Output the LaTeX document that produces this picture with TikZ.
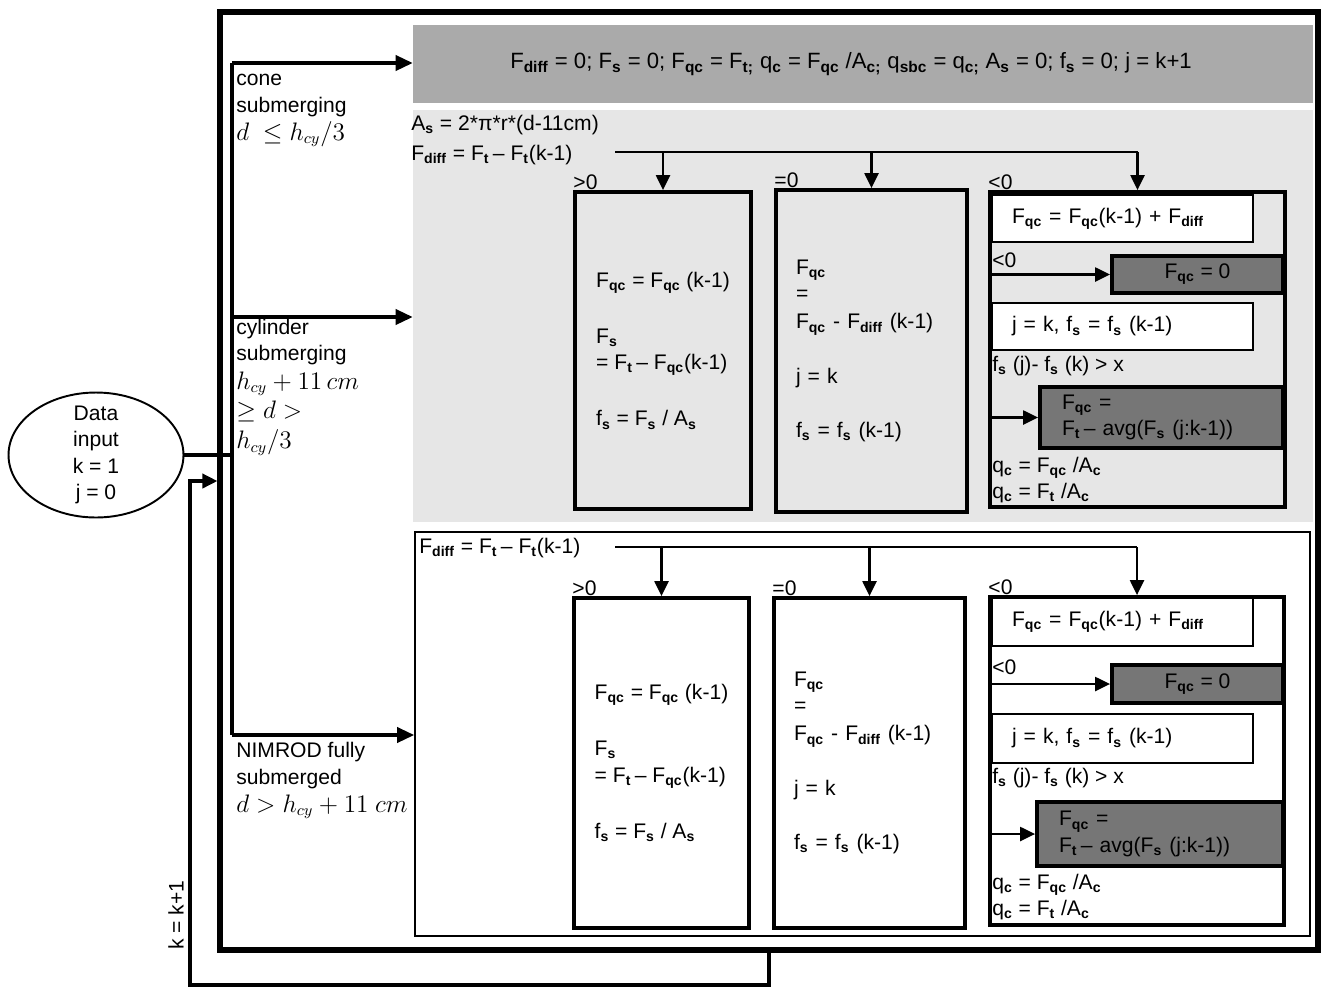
\documentclass[tikz,border=0pt]{standalone}
\usepackage{fontspec}
\setmainfont{Liberation Sans}
\usetikzlibrary{arrows.meta,calc,shapes.geometric}
\definecolor{BarGray}{RGB}{170,170,170}
\definecolor{RegGray}{RGB}{230,230,230}
\definecolor{DarkGray}{RGB}{118,118,118}
\newcommand{\sbs}[1]{\textsubscript{\textbf{#1}}}
\newcommand{\mth}[1]{{\fontsize{13.5}{15}\selectfont$#1$}}
\tikzset{
  txt/.style={font=\fontsize{12}{15}\selectfont,inner sep=0pt},
  lbl/.style={txt,anchor=north west,align=left},
  cond/.style={txt,anchor=south west},
  mainframe/.style={draw,line width=3pt,inner sep=0pt,minimum width=21.96cm,minimum height=18.76cm},
  region/.style={inner sep=0pt,minimum width=18cm},
  calcbox/.style={txt,draw,line width=2.2pt,inner xsep=0.4cm,align=left},
  subbox/.style={txt,draw,fill=white,line width=1pt,inner xsep=0.4cm,align=left},
  darkbox/.style={txt,draw,fill=DarkGray,line width=2.2pt,align=left},
  bus/.style={line width=2pt},
  branch/.style={-{Triangle[length=0.34cm,width=0.3cm]},line width=2pt},
  flow/.style={-{Triangle[length=0.3cm,width=0.28cm]},line width=1.3pt}
}
\begin{document}
\begin{tikzpicture}[x=0.02cm,y=-0.02cm]
\useasboundingbox (0,0) rectangle (1321,988);
% regions
\node[mainframe] (main) at (769,481) {};
\node[region,fill=BarGray,minimum height=1.56cm] (init) at (863,64) {};
\node[region,fill=RegGray,minimum height=8.24cm] (cylreg) at (863,316) {};
\node[region,draw,line width=1pt,minimum width=17.9cm,minimum height=8.08cm] (fullreg) at (862.5,734) {};
\node[txt,font=\fontsize{12.6}{15}\selectfont] (inittxt) at (851,64) {F\sbs{diff} = 0; F\sbs{s} = 0; F\sbs{qc} = F\sbs{t;} q\sbs{c} = F\sbs{qc} /A\sbs{c;} q\sbs{sbc} = q\sbs{c;} A\sbs{s} = 0; f\sbs{s} = 0; j = k+1};

% input and branches
\node[draw,ellipse,line width=1.1pt,minimum width=3.5cm,minimum height=2.5cm,inner sep=0pt] (input) at (96,455) {};
\node[txt,align=center] (inputtxt) at (input.center) {Data\\input\\k = 1\\ j = 0};
\coordinate (bustop) at (232,63);
\coordinate (busmid) at (232,317);
\coordinate (busbot) at (232,735);
\coordinate (loopbl) at (190,985);
\draw[bus](input.east)--(input.east -| bustop);\draw[bus](bustop)--(busbot);
\draw[branch](bustop)--(bustop -| init.west);\draw[branch](busmid)--(busmid -| cylreg.west);\draw[branch](busbot)--(busbot -| fullreg.west);
\draw[flow,line width=2pt](main.south)|-(loopbl)|-(main.west);

\node[lbl] (conelbl) at (236,74) {cone\\submerging\\[1pt]\mth{d\ \leq h_{cy}/3}};
\node[lbl] (cyllbl) at (236,319) {cylinder\\submerging\\[1pt]\mth{h_{cy}+11\,cm}\\[2pt]\mth{\geq d>}\\[2pt]\mth{h_{cy}/3}};
\node[lbl] (fulllbl) at (236,742) {NIMROD fully\\submerged\\[1pt]\mth{d>h_{cy}+11\ cm}};
\node[txt,rotate=90] (incr) at (176,915) {k = k+1};

% cylinder submerging
\node[txt,anchor=west] (area1) at (411,125) {A\sbs{s} = 2*π*r*(d-11cm)};
\node[txt,anchor=west] (fdiff1) at (411,155) {F\sbs{diff} = F\sbs{t}\,– F\sbs{t}(k-1)};
\node[calcbox,minimum width=3.52cm,minimum height=6.34cm] (gt1) at (663,350.5) {F\sbs{qc} = F\sbs{qc} (k-1)\\[17pt]F\sbs{s}\\= F\sbs{t}\,– F\sbs{qc}(k-1)\\[17pt]f\sbs{s} = F\sbs{s} / A\sbs{s}};
\node[calcbox,text width=3.02cm,minimum height=6.44cm] (eq1) at (871.5,351) {F\sbs{qc}\\=\\[1pt]F\sbs{qc} - F\sbs{diff} (k-1)\\[16pt]j = k\\[16pt]f\sbs{s} = f\sbs{s} (k-1)};
\node[calcbox,minimum width=5.9cm,minimum height=6.3cm] (lt1) at (1137.5,349.5) {};
\node[subbox,text width=4.42cm,minimum height=0.94cm] (w1a) at (1122.5,218.5) {F\sbs{qc} = F\sbs{qc}(k-1) + F\sbs{diff}};
\node[darkbox,align=center,minimum width=3.42cm,minimum height=0.74cm] (d1a) at (1197.5,274.5) {F\sbs{qc} = 0};
\node[subbox,text width=4.42cm,minimum height=0.94cm] (w1b) at (1122.5,326.5) {j = k, f\sbs{s} = f\sbs{s} (k-1)};
\node[darkbox,inner xsep=0.44cm,text width=3.98cm,minimum height=1.22cm] (d1b) at (1161.5,417.5) {F\sbs{qc} =\\F\sbs{t}\,– avg(F\sbs{s} (j:k-1))};
\node[txt,anchor=west] (neg1) at (992,260) {<0};
\node[txt,anchor=west] (jump1) at (992,366) {f\sbs{s} (j)- f\sbs{s} (k) > x};
\node[txt,anchor=west,align=left] (qc1) at (992,480) {q\sbs{c} = F\sbs{qc} /A\sbs{c}\\q\sbs{c} = F\sbs{t} /A\sbs{c}};
\node[cond] (gtc1) at (gt1.north west) {>0};
\node[cond] (eqc1) at (eq1.north west) {=0};
\node[cond] (ltc1) at (lt1.north west) {<0};
\coordinate (split1) at (615,152);
\draw[flow,-](split1)--(split1 -| lt1.north);
\draw[flow](split1 -| gt1.north)--(gt1.north);\draw[flow](split1 -| eq1.north)--(eq1.north);\draw[flow](split1 -| lt1.north)--(lt1.north);
\draw[flow](lt1.west |- d1a)--(d1a.west);\draw[flow](lt1.west |- d1b)--(d1b.west);

% fully submerged
\node[txt,anchor=west] (fdiff2) at (419,548) {F\sbs{diff} = F\sbs{t}\,– F\sbs{t}(k-1)};
\node[calcbox,minimum width=3.5cm,minimum height=6.6cm] (gt2) at (661.5,763) {F\sbs{qc} = F\sbs{qc} (k-1)\\[17pt]F\sbs{s}\\= F\sbs{t}\,– F\sbs{qc}(k-1)\\[17pt]f\sbs{s} = F\sbs{s} / A\sbs{s}};
\node[calcbox,text width=3.02cm,minimum height=6.6cm] (eq2) at (869.5,763) {F\sbs{qc}\\=\\[1pt]F\sbs{qc} - F\sbs{diff} (k-1)\\[16pt]j = k\\[16pt]f\sbs{s} = f\sbs{s} (k-1)};
\node[calcbox,minimum width=5.88cm,minimum height=6.56cm] (lt2) at (1137,761) {};
\node[subbox,text width=4.42cm,minimum height=0.96cm] (w2a) at (1122.5,622) {F\sbs{qc} = F\sbs{qc}(k-1) + F\sbs{diff}};
\node[darkbox,align=center,minimum width=3.42cm,minimum height=0.76cm] (d2a) at (1197.5,684) {F\sbs{qc} = 0};
\node[subbox,text width=4.42cm,minimum height=0.98cm] (w2b) at (1122.5,738.5) {j = k, f\sbs{s} = f\sbs{s} (k-1)};
\node[darkbox,inner xsep=0.44cm,text width=4.04cm,minimum height=1.28cm] (d2b) at (1160,834) {F\sbs{qc} =\\F\sbs{t}\,– avg(F\sbs{s} (j:k-1))};
\node[txt,anchor=west] (neg2) at (992,667) {<0};
\node[txt,anchor=west] (jump2) at (992,778) {f\sbs{s} (j)- f\sbs{s} (k) > x};
\node[txt,anchor=west,align=left] (qc2) at (992,897) {q\sbs{c} = F\sbs{qc} /A\sbs{c}\\q\sbs{c} = F\sbs{t} /A\sbs{c}};
\node[cond] (gtc2) at (gt2.north west) {>0};
\node[cond] (eqc2) at (eq2.north west) {=0};
\node[cond] (ltc2) at (lt2.north west) {<0};
\coordinate (split2) at (615,547);
\draw[flow,-](split2)--(split2 -| lt2.north);
\draw[flow](split2 -| gt2.north)--(gt2.north);\draw[flow](split2 -| eq2.north)--(eq2.north);\draw[flow](split2 -| lt2.north)--(lt2.north);
\draw[flow](lt2.west |- d2a)--(d2a.west);\draw[flow](lt2.west |- d2b)--(d2b.west);
\end{tikzpicture}
\end{document}
